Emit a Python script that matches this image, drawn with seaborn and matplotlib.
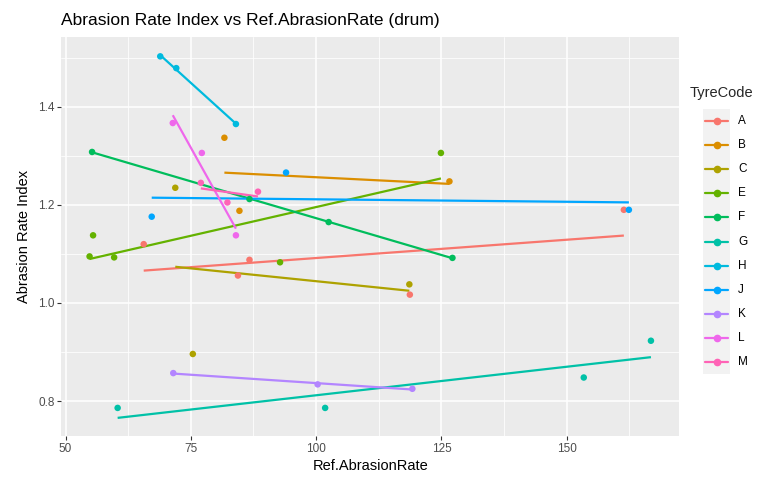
import numpy as np
import pandas as pd
import seaborn as sns
import matplotlib
matplotlib.use("Agg")
import matplotlib.pyplot as plt
from matplotlib.lines import Line2D
from matplotlib.patches import Rectangle
from matplotlib.ticker import MultipleLocator

# ---- data ----
tyre_codes = ["A", "B", "C", "E", "F", "G", "H", "J", "K", "L", "M"]
ref_rate = {
    "A": [65.6, 84.4, 86.7, 118.7, 161.4],
    "B": [81.7, 84.7, 126.6],
    "C": [71.9, 75.4, 118.6],
    "E": [54.8, 55.5, 59.7, 92.8, 124.9],
    "F": [55.3, 86.7, 102.5, 127.2],
    "G": [60.4, 101.8, 153.4, 166.8],
    "H": [68.9, 72.1, 84.0],
    "J": [67.2, 94.0, 162.4],
    "K": [71.5, 100.3, 119.2],
    "L": [71.4, 77.2, 84.0],
    "M": [77.0, 82.3, 88.4],
}
abrasion_index = {
    "A": [1.120, 1.056, 1.088, 1.017, 1.190],
    "B": [1.337, 1.188, 1.248],
    "C": [1.235, 0.896, 1.038],
    "E": [1.095, 1.138, 1.093, 1.083, 1.306],
    "F": [1.308, 1.212, 1.165, 1.092],
    "G": [0.786, 0.786, 0.848, 0.923],
    "H": [1.503, 1.479, 1.365],
    "J": [1.176, 1.266, 1.190],
    "K": [0.857, 0.834, 0.825],
    "L": [1.367, 1.306, 1.138],
    "M": [1.245, 1.205, 1.227],
}
x_ticks = [50, 75, 100, 125, 150]
y_ticks = [0.8, 1.0, 1.2, 1.4]
palette_colors = ["#F8766D", "#DB8E00", "#AEA200", "#64B200", "#00BD5C", "#00C1A7",
                  "#00BADE", "#00A6FF", "#B385FF", "#EF67EB", "#FF63B6"]

rows = []
for c in tyre_codes:
    for xv, yv in zip(ref_rate[c], abrasion_index[c]):
        rows.append({"TyreCode": c, "Ref.AbrasionRate": xv, "Abrasion Rate Index": yv})
df = pd.DataFrame(rows)
palette = dict(zip(tyre_codes, palette_colors))

sns.set_theme(style="darkgrid")
plt.rcParams["font.family"] = ["Liberation Sans", "DejaVu Sans"]

W, H = 777, 478
fig = plt.figure(figsize=(W / 100, H / 100), dpi=100)
left, right, top, bottom = 61.5, 679, 37, 436
ax = fig.add_axes([left / W, 1 - bottom / H, (right - left) / W, (bottom - top) / H])
ax.set_facecolor("#EBEBEB")

for c in tyre_codes:
    sub = df[df["TyreCode"] == c]
    sns.regplot(data=sub, x="Ref.AbrasionRate", y="Abrasion Rate Index", ax=ax,
                scatter=False, ci=None, truncate=True, color=palette[c],
                line_kws=dict(lw=1.6, solid_capstyle="butt"))

sns.scatterplot(data=df, x="Ref.AbrasionRate", y="Abrasion Rate Index", hue="TyreCode",
                palette=palette, hue_order=tyre_codes, s=22, linewidth=0, ax=ax,
                legend=False, zorder=3)

ax.margins(x=0.05, y=0.05)
ax.autoscale(enable=True)

ax.set_xticks(x_ticks)
ax.set_yticks(y_ticks)
ax.set_yticklabels([f"{v:.1f}" for v in y_ticks])
ax.xaxis.set_minor_locator(MultipleLocator(12.5))
ax.yaxis.set_minor_locator(MultipleLocator(0.1))
ax.grid(which="major", color="white", lw=1.1)
ax.grid(which="minor", color="white", lw=0.55)
ax.set_axisbelow(True)
for s in ax.spines.values():
    s.set_visible(False)
ax.tick_params(which="major", length=3, width=0.8, color="#333333",
               labelsize=8.5, labelcolor="#4D4D4D", pad=2, bottom=True, left=True)
ax.tick_params(which="minor", length=0)

ax.set_xlabel("Ref.AbrasionRate", fontsize=10.5, color="black", labelpad=3)
ax.set_ylabel("Abrasion Rate Index", fontsize=10.5, color="black", labelpad=5)
ax.set_title("Abrasion Rate Index vs Ref.AbrasionRate (drum)", loc="left",
             fontsize=12.5, color="black", pad=9)

# ---- legend (ggplot-like) ----
key_x0, key_x1 = 703, 730
first_y, step = 121, 24.1
fig.text(690 / W, 1 - 93 / H, "TyreCode", fontsize=10.5, va="center", ha="left")
fig.add_artist(Rectangle((key_x0 / W, 1 - (first_y - step / 2 + step * len(tyre_codes)) / H),
                         (key_x1 - key_x0) / W, step * len(tyre_codes) / H,
                         transform=fig.transFigure, facecolor="#F2F2F2", edgecolor="none"))
for i, c in enumerate(tyre_codes):
    yy = 1 - (first_y + i * step) / H
    fig.add_artist(Line2D([(key_x0 + 2) / W, (key_x1 - 2) / W], [yy, yy],
                          transform=fig.transFigure, color=palette[c], lw=1.6))
    fig.add_artist(Line2D([(key_x0 + key_x1) / 2 / W], [yy], transform=fig.transFigure,
                          color=palette[c], marker="o", markersize=4.5, lw=0))
    fig.text(738 / W, yy, c, fontsize=8.5, va="center", ha="left", color="black")

fig.savefig("out.png", dpi=100, facecolor="white")
